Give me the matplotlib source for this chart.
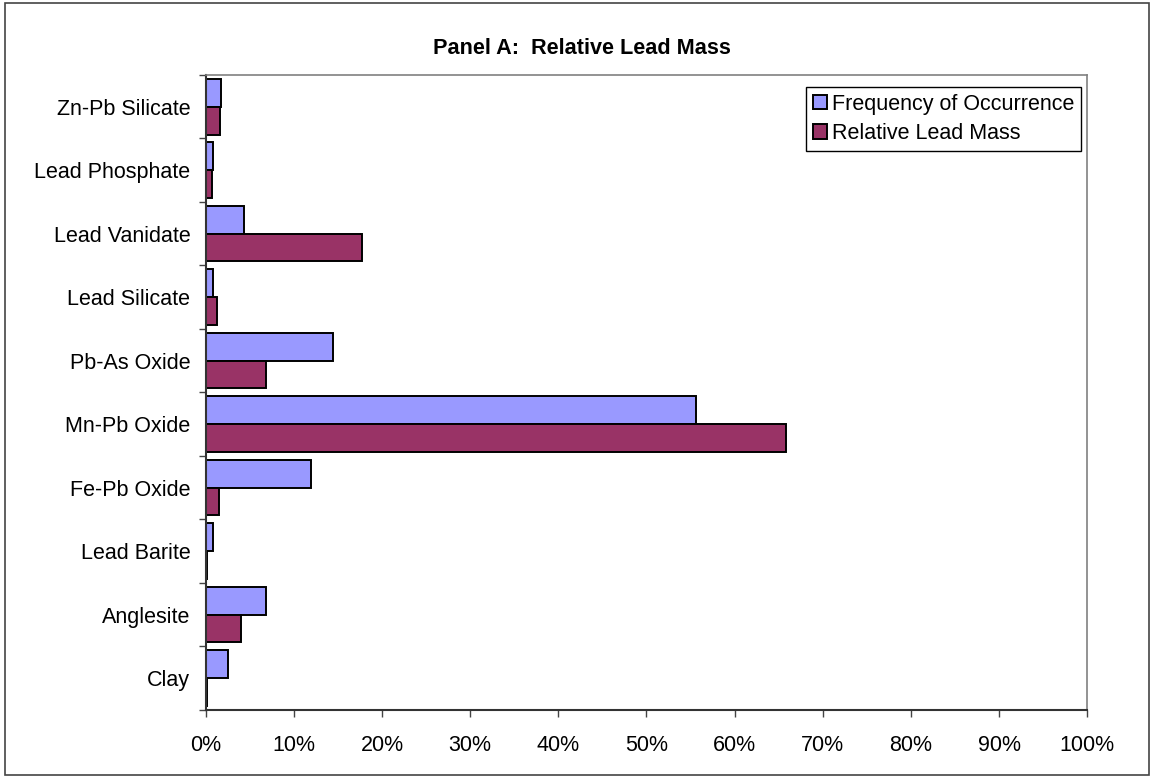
import numpy as np
import matplotlib
matplotlib.use("Agg")
import matplotlib.pyplot as plt
from matplotlib.patches import Rectangle
from matplotlib.ticker import FixedLocator

plt.rcParams['font.family'] = ['Liberation Sans', 'DejaVu Sans']

# listed top to bottom as in the chart
minerals = ['Zn-Pb Silicate', 'Lead Phosphate', 'Lead Vanidate', 'Lead Silicate',
            'Pb-As Oxide', 'Mn-Pb Oxide', 'Fe-Pb Oxide', 'Lead Barite',
            'Anglesite', 'Clay']
freq = [1.7, 0.8, 4.3, 0.8, 14.4, 55.6, 11.9, 0.8, 6.8, 2.5]
mass = [1.6, 0.7, 17.7, 1.3, 6.9, 65.8, 1.5, 0.2, 4.0, 0.2]
xticks = list(range(0, 101, 10))

fig = plt.figure(figsize=(11.54, 7.77), dpi=100)
ax = fig.add_axes([0.1782, 0.0865, 0.9422 - 0.1782, 0.9035 - 0.0865])

n = len(minerals)
y = np.arange(n)[::-1]
h = 0.438

ax.barh(y + h / 2, freq, height=h, color='#9999FF', edgecolor='black',
        linewidth=1.4, label='Frequency of Occurrence')
ax.barh(y - h / 2, mass, height=h, color='#993366', edgecolor='black',
        linewidth=1.4, label='Relative Lead Mass')

ax.set_xlim(0, 100)
ax.set_ylim(-0.5, n - 0.5)
ax.set_xticks(xticks)
ax.set_xticklabels([f'{v}%' for v in xticks])
ax.set_yticks(y)
ax.set_yticklabels(minerals)
ax.yaxis.set_minor_locator(FixedLocator(np.arange(-0.5, n, 1.0)))

ax.tick_params(axis='y', which='major', length=0, pad=11, labelsize=15.5)
ax.tick_params(axis='y', which='minor', length=5, width=1, direction='out', color='#444444')
ax.tick_params(axis='x', length=5, width=1, direction='out', pad=13,
               labelsize=15.5, color='#444444')

for side in ['top', 'right']:
    ax.spines[side].set_color('#808080')
    ax.spines[side].set_linewidth(1.2)
for side in ['left', 'bottom']:
    ax.spines[side].set_color('#333333')
    ax.spines[side].set_linewidth(1.5)

fig.text(582 / 1154, 1 - 48 / 777, 'Panel A:  Relative Lead Mass', fontsize=15.6,
         fontweight='bold', ha='center', va='center')

leg = ax.legend(loc='upper right', bbox_to_anchor=(0.993, 0.981), fontsize=15.5,
                frameon=True, fancybox=False, edgecolor='black', framealpha=1,
                handlelength=0.65, handleheight=0.65, handletextpad=0.25,
                borderpad=0.3, labelspacing=0.4, borderaxespad=0)
leg.get_frame().set_linewidth(1.0)

fig.patches.append(Rectangle((5 / 1154, 2 / 777), 1144 / 1154, 772 / 777,
                             transform=fig.transFigure, fill=False,
                             edgecolor='#444444', linewidth=1.2))

fig.savefig('out.png', dpi=100)
